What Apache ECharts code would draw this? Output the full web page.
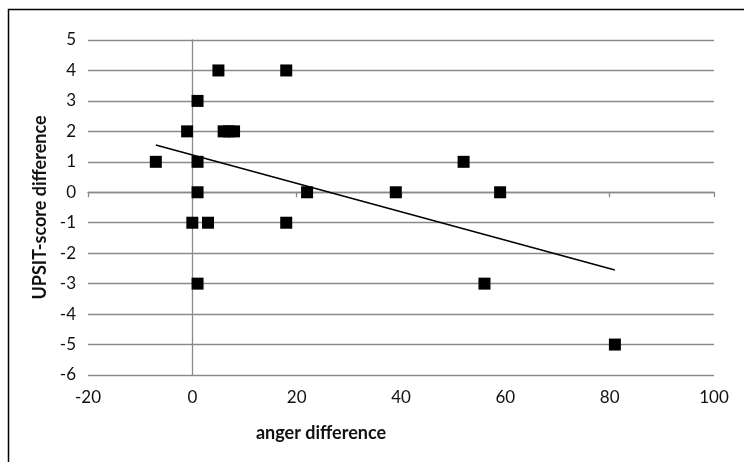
<!DOCTYPE html>
<html>
<head>
<meta charset="utf-8">
<script src="https://cdn.jsdelivr.net/npm/echarts@6/dist/echarts.min.js"></script>
<style>
  html, body { margin: 0; padding: 0; background: #fff; }
  #main { width: 744px; height: 462px; }
</style>
</head>
<body>
<div id="main"></div>
<script>
// data
var angerDiff = [5, 18, 1, -1, 6, 7, 8, -7, 1, 52, 1, 22, 39, 59, 0, 3, 18, 1, 56, 81];
var upsitDiff = [4, 4, 3, 2, 2, 2, 2, 1, 1, 1, 0, 0, 0, 0, -1, -1, -1, -3, -3, -5];
// linear trend line end points
var trendX = [-7, 81];
var trendY = [1.55, -2.55];

var font = 'Lato, "Open Sans", sans-serif';
var gridColor = '#8a8a8a';

var points = angerDiff.map(function (x, i) { return [x, upsitDiff[i]]; });
var trend = trendX.map(function (x, i) { return [x, trendY[i]]; });

var myChart = echarts.init(document.getElementById('main'));
var option = {
    backgroundColor: '#fff',
    animation: false,
    textStyle: { fontFamily: font },
    graphic: [{
        type: 'rect',
        shape: { x: 8.5, y: 9.5, width: 800, height: 500 },
        style: { fill: 'none', stroke: '#000', lineWidth: 1.5 },
        silent: true
    }],
    grid: { left: 88, top: 40, width: 626, height: 335 },
    xAxis: [
        {
            // axis line crossing at y = 0, with its ticks
            type: 'value', min: -20, max: 100, interval: 20,
            axisLine: { show: true, onZero: true, lineStyle: { color: gridColor, width: 1.3 } },
            axisTick: { show: true, length: 5, lineStyle: { color: gridColor, width: 1.3 } },
            axisLabel: { show: false },
            splitLine: { show: false }
        },
        {
            // labels at the bottom of the plot
            type: 'value', min: -20, max: 100, interval: 20, position: 'bottom',
            axisLine: { show: false, onZero: false },
            axisTick: { show: false },
            axisLabel: { color: '#111', fontSize: 17, margin: 14, fontFamily: font },
            splitLine: { show: false },
            name: 'anger difference', nameLocation: 'middle', nameGap: 49,
            nameTextStyle: {
                color: '#111', fontSize: 18, fontWeight: 'bold', fontFamily: font,
                padding: [0, 160, 0, 0]
            }
        }
    ],
    yAxis: [
        {
            type: 'value', min: -6, max: 5, interval: 1, position: 'left',
            axisLine: { show: false, onZero: false },
            axisTick: { show: false },
            axisLabel: { color: '#111', fontSize: 17, margin: 12, fontFamily: font },
            splitLine: { show: true, lineStyle: { color: gridColor, width: 1.3 } },
            name: 'UPSIT-score difference', nameLocation: 'middle', nameGap: 39,
            nameTextStyle: { color: '#111', fontSize: 18, fontWeight: 'bold', fontFamily: font }
        },
        {
            // vertical axis line at x = 0
            type: 'value', min: -6, max: 5, interval: 1, position: 'left',
            axisLine: { show: true, onZero: true, onZeroAxisIndex: 0, lineStyle: { color: gridColor, width: 1.3 } },
            axisTick: { show: false },
            axisLabel: { show: false },
            splitLine: { show: false }
        }
    ],
    series: [
        {
            type: 'scatter',
            xAxisIndex: 0, yAxisIndex: 0,
            symbol: 'rect', symbolSize: 12,
            itemStyle: { color: '#000', opacity: 1, borderWidth: 0 },
            data: points,
            z: 3
        },
        {
            type: 'line',
            xAxisIndex: 0, yAxisIndex: 0,
            showSymbol: false,
            lineStyle: { color: '#000', width: 1.5 },
            data: trend,
            z: 4
        }
    ]
};
myChart.setOption(option);
</script>
</body>
</html>
